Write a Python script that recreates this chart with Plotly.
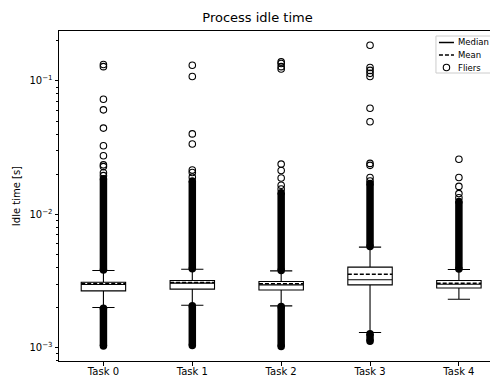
import plotly.graph_objects as go

# ---------------- data ----------------
tasks = ["Task 0", "Task 1", "Task 2", "Task 3", "Task 4"]
positions = [0, 1, 2, 3, 4]

q1 = [2.67e-3, 2.75e-3, 2.71e-3, 2.96e-3, 2.80e-3]
medians = [2.98e-3, 3.05e-3, 2.96e-3, 3.23e-3, 2.99e-3]
means = [3.03e-3, 3.08e-3, 3.02e-3, 3.56e-3, 3.04e-3]
q3 = [3.10e-3, 3.19e-3, 3.14e-3, 4.02e-3, 3.19e-3]
whisker_lo = [2.00e-3, 2.08e-3, 2.06e-3, 1.30e-3, 2.31e-3]
whisker_hi = [3.79e-3, 3.88e-3, 3.77e-3, 5.68e-3, 3.86e-3]

# dense (overlapping) flier ranges
dense_upper_lo = [3.82e-3, 3.91e-3, 3.80e-3, 5.75e-3, 3.90e-3]
dense_upper_hi = [1.85e-2, 1.78e-2, 1.45e-2, 1.70e-2, 1.25e-2]
dense_lower_hi = [1.98e-3, 2.06e-3, 2.04e-3, 1.27e-3, None]
dense_lower_lo = [1.03e-3, 1.04e-3, 1.02e-3, 1.12e-3, None]

# individually visible fliers
fliers_task0 = [0.133, 0.128, 0.073, 0.0607, 0.0443, 0.0327, 0.0275, 0.0235, 0.0228, 0.0205, 0.0195]
fliers_task1 = [0.131, 0.108, 0.0401, 0.0337, 0.0215, 0.0206, 0.0190]
fliers_task2 = [0.139, 0.135, 0.128, 0.123, 0.0238, 0.0213, 0.0187, 0.0165, 0.0155]
fliers_task3 = [0.185, 0.126, 0.120, 0.114, 0.108, 0.0624, 0.0495, 0.0241, 0.0233, 0.0189, 0.0178]
fliers_task4 = [0.0259, 0.0189, 0.0162, 0.0143, 0.0133]
fliers_all = [fliers_task0, fliers_task1, fliers_task2, fliers_task3, fliers_task4]

major_ticks = [1e-3, 1e-2, 1e-1]
major_labels = ["10<sup>\u22123</sup>", "10<sup>\u22122</sup>", "10<sup>\u22121</sup>"]

# ---------------- layout constants ----------------
OFF = 8                       # page body margin offset
PAGE_W, PAGE_H = 498, 377
W, H = PAGE_W - OFF, PAGE_H - OFF
PLOT_L, PLOT_R, PLOT_T, PLOT_B = 59.3, 498, 31, 361   # in page pixels
ML, MR = PLOT_L - OFF, PAGE_W - PLOT_R
MT, MB = PLOT_T - OFF, PAGE_H - PLOT_B
PW, PH = W - ML - MR, H - MT - MB
FONT = "DejaVu Sans"
BOX_W = 0.5


def px_x(px):
    return (px - PLOT_L) / PW


def px_y(py):
    return (PLOT_B - py) / PH


fig = go.Figure()

fig.add_trace(go.Box(
    x=positions, q1=q1, median=medians, q3=q3,
    lowerfence=whisker_lo, upperfence=whisker_hi,
    width=BOX_W, whiskerwidth=0.5, boxpoints=False,
    fillcolor="white", line=dict(color="black", width=1.1),
    showlegend=False, hoverinfo="skip",
))

# mean dashed lines
mx, my = [], []
for p, m in zip(positions, means):
    mx += [p - BOX_W / 2, p + BOX_W / 2, None]
    my += [m, m, None]
fig.add_trace(go.Scatter(x=mx, y=my, mode="lines",
                         line=dict(color="black", width=1.5, dash="4px,2px"),
                         showlegend=False, hoverinfo="skip"))

# dense flier bands
bx, by = [], []
for p, lo, hi in zip(positions, dense_upper_lo, dense_upper_hi):
    bx += [p, p, None]
    by += [lo, hi, None]
for p, lo, hi in zip(positions, dense_lower_lo, dense_lower_hi):
    if lo is None:
        continue
    bx += [p, p, None]
    by += [lo, hi, None]
fig.add_trace(go.Scatter(x=bx, y=by, mode="lines+markers",
                         line=dict(color="black", width=7.5),
                         marker=dict(color="black", size=7.5),
                         showlegend=False, hoverinfo="skip"))

# individual fliers
fx, fy = [], []
for p, vals in zip(positions, fliers_all):
    fx += [p] * len(vals)
    fy += vals
fig.add_trace(go.Scatter(x=fx, y=fy, mode="markers",
                         marker=dict(symbol="circle-open", size=6.5,
                                     color="black", line=dict(width=1.1)),
                         showlegend=False, hoverinfo="skip"))

minor_vals = [m * 10 ** e for e in (-4, -3, -2, -1) for m in range(2, 10)]

fig.update_layout(
    width=W, height=H,
    margin=dict(l=ML, r=MR, t=MT, b=MB, autoexpand=False),
    plot_bgcolor="white", paper_bgcolor="white",
    font=dict(family=FONT, size=10, color="black"),
    title=dict(text="Process idle time", font=dict(size=13, family=FONT),
               x=(257.5 - OFF) / W, xref="container", xanchor="center",
               y=1 - (17.5 - OFF) / H, yref="container", yanchor="middle"),
    xaxis=dict(range=[-0.5, 4.44], tickmode="array", tickvals=positions, ticktext=tasks,
               ticks="outside", ticklen=3.5, tickwidth=1, tickcolor="black",
               ticklabelstandoff=-3,
               showline=True, linecolor="black", linewidth=1, mirror=True,
               showgrid=False, zeroline=False, automargin=False,
               tickfont=dict(size=10, family=FONT)),
    yaxis=dict(type="log", range=[-3.0996, -0.6255], tickmode="array",
               tickvals=major_ticks, ticktext=major_labels,
               ticks="outside", ticklen=3.5, tickwidth=1, tickcolor="black",
               minor=dict(tickmode="array", tickvals=minor_vals, ticks="outside",
                          ticklen=2, tickwidth=0.8, tickcolor="black", showgrid=False),
               showline=True, linecolor="black", linewidth=1, mirror=False,
               showgrid=False, zeroline=False, automargin=False,
               tickfont=dict(size=10, family=FONT)),
    showlegend=False,
)

# y axis title
fig.add_annotation(text="Idle time [s]", x=px_x(16.5), y=0.5, xref="paper", yref="paper",
                   textangle=-90, showarrow=False, xanchor="center", yanchor="middle",
                   font=dict(size=10, family=FONT))

# manual legend (matplotlib style)
fig.add_shape(type="rect", xref="paper", yref="paper",
              x0=px_x(436), x1=px_x(503), y0=px_y(73), y1=px_y(36),
              line=dict(color="#cccccc", width=1), fillcolor="rgba(255,255,255,0.8)", layer="above")
legend_rows = [("Median", 42.5), ("Mean", 55), ("Fliers", 67.5)]
fig.add_shape(type="line", xref="paper", yref="paper", x0=px_x(439), x1=px_x(454),
              y0=px_y(42.5), y1=px_y(42.5), line=dict(color="black", width=1.5), layer="above")
fig.add_shape(type="line", xref="paper", yref="paper", x0=px_x(439), x1=px_x(454),
              y0=px_y(55), y1=px_y(55), line=dict(color="black", width=1.5, dash="4px,2px"),
              layer="above")
fig.add_shape(type="circle", xref="paper", yref="paper", xsizemode="pixel", ysizemode="pixel",
              xanchor=px_x(446.5), yanchor=px_y(67.5), x0=-3.2, x1=3.2, y0=-3.2, y1=3.2,
              line=dict(color="black", width=1.1), layer="above")
for label, py in legend_rows:
    fig.add_annotation(text=label, x=px_x(457), y=px_y(py), xref="paper", yref="paper",
                       showarrow=False, xanchor="left", yanchor="middle", borderpad=0,
                       font=dict(size=8.5, family=FONT))

fig.write_html("out.html")
